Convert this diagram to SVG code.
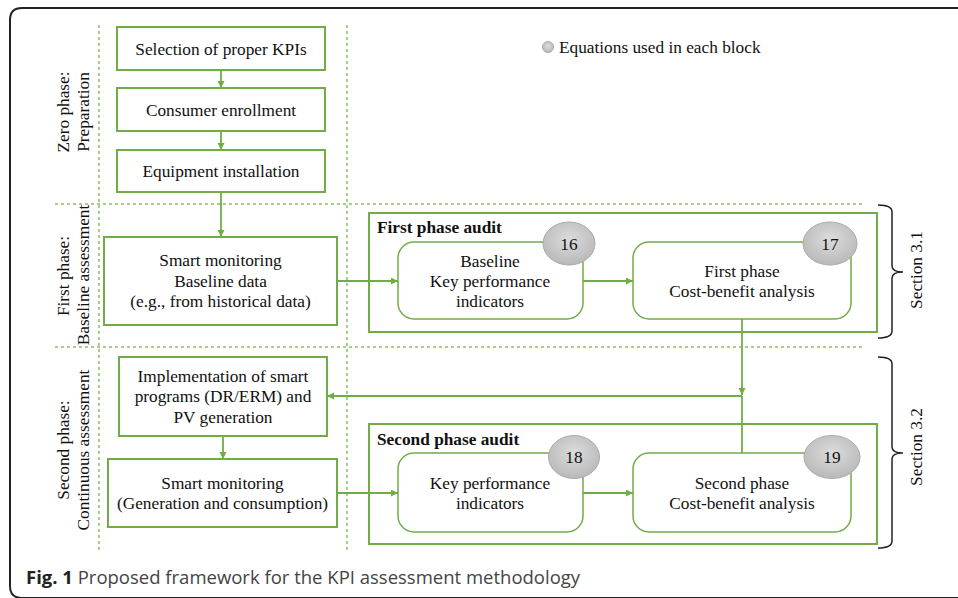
<svg xmlns="http://www.w3.org/2000/svg" width="958" height="598" viewBox="0 0 958 598">
<defs>
<marker id="ah" markerUnits="userSpaceOnUse" markerWidth="8" markerHeight="8" refX="7" refY="3.5" orient="auto">
<path d="M0,0 L7,3.5 L0,7 z" fill="#70AD47"/>
</marker>
<radialGradient id="eg" cx="50%" cy="40%" r="60%">
<stop offset="0" stop-color="#dcdcdc"/>
<stop offset="1" stop-color="#b9b9b9"/>
</radialGradient>
</defs>
<style>
.t{font-family:"Liberation Serif","Times New Roman",serif;font-size:17.3px;fill:#111;text-anchor:middle}
.b{font-family:"Liberation Serif","Times New Roman",serif;font-size:17.3px;font-weight:bold;fill:#111}
.box{fill:#fff;stroke:#70AD47;stroke-width:2}
.rbox{fill:#fff;stroke:#70AD47;stroke-width:1.5}
.cont{fill:none;stroke:#70AD47;stroke-width:2}
.dot{stroke:#8CC063;stroke-width:1.5;stroke-dasharray:3 3;fill:none}
.ln{stroke:#70AD47;stroke-width:1.8;fill:none}
.eq{fill:url(#eg);stroke:#aaaaaa;stroke-width:1}
.br{fill:none;stroke:#222;stroke-width:1.5}
</style>
<rect width="958" height="598" fill="#fff"/>
<path d="M958 8 H22 Q10 8 10 20 V586 Q10 598 22 598 H958" fill="none" stroke="#222" stroke-width="2"/>

<g id="grid">
<line class="dot" x1="99" y1="25" x2="99" y2="553"/>
<line class="dot" x1="347" y1="25" x2="347" y2="550"/>
<line class="dot" x1="55" y1="204" x2="865" y2="204"/>
<line class="dot" x1="55" y1="347" x2="865" y2="347"/>
</g>

<g id="phase-labels">
<text class="t" transform="translate(69,112) rotate(-90)">Zero phase:</text>
<text class="t" transform="translate(89,112) rotate(-90)">Preparation</text>
<text class="t" transform="translate(69,276) rotate(-90)">First phase:</text>
<text class="t" transform="translate(89,275) rotate(-90)">Baseline assessment</text>
<text class="t" transform="translate(69,450) rotate(-90)">Second phase:</text>
<text class="t" transform="translate(89,450) rotate(-90)">Continuous assessment</text>
</g>

<g id="legend">
<circle cx="548" cy="47" r="5.5" class="eq"/>
<text class="t" x="559" y="53" style="text-anchor:start">Equations used in each block</text>
</g>

<g id="connectors">
<line class="ln" x1="221" y1="70" x2="221" y2="88" marker-end="url(#ah)"/>
<line class="ln" x1="221" y1="131" x2="221" y2="150" marker-end="url(#ah)"/>
<line class="ln" x1="221" y1="192" x2="221" y2="237" marker-end="url(#ah)"/>
<line class="ln" x1="337" y1="281" x2="398" y2="281" marker-end="url(#ah)"/>
<line class="ln" x1="583" y1="281" x2="633" y2="281" marker-end="url(#ah)"/>
<line class="ln" x1="742" y1="319" x2="742" y2="395" marker-end="url(#ah)"/>
<line class="ln" x1="742" y1="453" x2="742" y2="396"/>
<line class="ln" x1="742" y1="396" x2="327" y2="396" marker-end="url(#ah)"/>
<line class="ln" x1="223" y1="436" x2="223" y2="459" marker-end="url(#ah)"/>
<line class="ln" x1="337" y1="493" x2="398" y2="493" marker-end="url(#ah)"/>
<line class="ln" x1="583" y1="493" x2="633" y2="493" marker-end="url(#ah)"/>
</g>

<g id="n-kpis">
<rect class="box" x="117" y="27" width="208" height="43"/>
<text class="t" x="221" y="55">Selection of proper KPIs</text>
</g>
<g id="n-enroll">
<rect class="box" x="117" y="88" width="208" height="43"/>
<text class="t" x="221" y="116">Consumer enrollment</text>
</g>
<g id="n-equip">
<rect class="box" x="117" y="150" width="208" height="42"/>
<text class="t" x="221" y="177">Equipment installation</text>
</g>
<g id="n-smart1">
<rect class="box" x="104" y="237" width="233" height="88"/>
<text class="t" x="220.5" y="266">Smart monitoring</text>
<text class="t" x="220.5" y="287">Baseline data</text>
<text class="t" x="220.5" y="307">(e.g., from historical data)</text>
</g>

<g id="c-first">
<rect class="cont" x="369" y="213" width="508" height="119"/>
<text class="b" x="377" y="233">First phase audit</text>
</g>
<g id="n-basekpi">
<rect class="rbox" x="398" y="242" width="185" height="77" rx="16"/>
<text class="t" x="490" y="267">Baseline</text>
<text class="t" x="490" y="287">Key performance</text>
<text class="t" x="490" y="307">indicators</text>
<ellipse class="eq" cx="569" cy="243.5" rx="26" ry="21.5"/>
<text class="t" x="569" y="250">16</text>
</g>
<g id="n-cba1">
<rect class="rbox" x="633" y="242" width="218" height="77" rx="16"/>
<text class="t" x="742" y="277">First phase</text>
<text class="t" x="742" y="297">Cost-benefit analysis</text>
<ellipse class="eq" cx="830" cy="243.5" rx="27" ry="21.5"/>
<text class="t" x="830" y="250">17</text>
</g>

<g id="n-impl">
<rect class="box" x="119" y="357" width="208" height="79"/>
<text class="t" x="223" y="382">Implementation of smart</text>
<text class="t" x="223" y="402">programs (DR/ERM) and</text>
<text class="t" x="223" y="423">PV generation</text>
</g>
<g id="n-smart2">
<rect class="box" x="108" y="459" width="229" height="68"/>
<text class="t" x="222.5" y="489">Smart monitoring</text>
<text class="t" x="222.5" y="509">(Generation and consumption)</text>
</g>

<g id="c-second">
<rect class="cont" x="369" y="424" width="508" height="120"/>
<text class="b" x="377" y="445">Second phase audit</text>
</g>
<g id="n-kpi2">
<rect class="rbox" x="398" y="453" width="185" height="79" rx="16"/>
<text class="t" x="490" y="489">Key performance</text>
<text class="t" x="490" y="509">indicators</text>
<ellipse class="eq" cx="574" cy="457" rx="25.5" ry="21.5"/>
<text class="t" x="574" y="463">18</text>
</g>
<g id="n-cba2">
<rect class="rbox" x="633" y="453" width="218" height="79" rx="16"/>
<text class="t" x="742" y="489">Second phase</text>
<text class="t" x="742" y="509">Cost-benefit analysis</text>
<ellipse class="eq" cx="832" cy="457" rx="28" ry="21.5"/>
<text class="t" x="832" y="463">19</text>
</g>

<g id="sections">
<path class="br" d="M878 205 Q892 205 892 212 V266 Q892 272 903 272 Q892 272 892 278 V331 Q892 338 878 338"/>
<text class="t" transform="translate(922,270) rotate(-90)">Section 3.1</text>
<path class="br" d="M878 357 Q892 357 892 364 V447 Q892 453 903 453 Q892 453 892 459 V541 Q892 548 878 548"/>
<text class="t" transform="translate(922,447) rotate(-90)">Section 3.2</text>
</g>

<g id="caption">
<text x="26" y="584" style="font-family:'Open Sans','Noto Sans',sans-serif;font-size:18.5px;fill:#444"><tspan style="font-weight:bold;fill:#222">Fig. 1</tspan> Proposed framework for the KPI assessment methodology</text>
</g>
</svg>
